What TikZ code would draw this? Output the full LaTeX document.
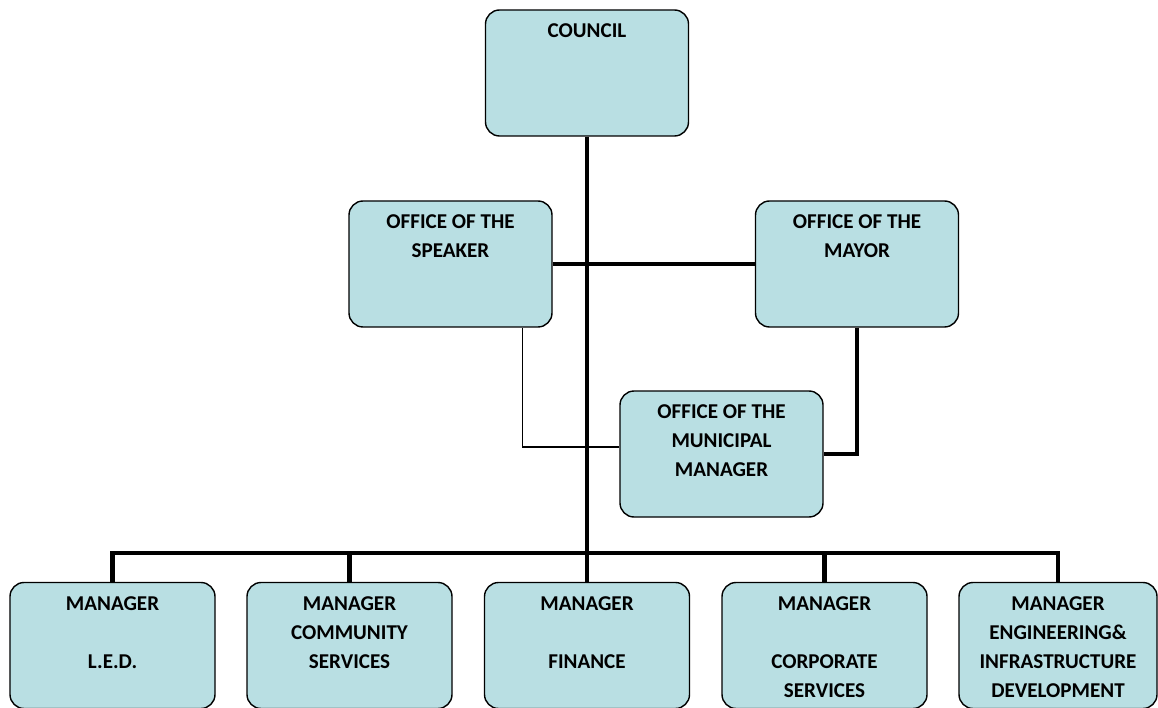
\documentclass[tikz,border=0pt]{standalone}
\usepackage{fontspec}
\setmainfont{Carlito}
\usetikzlibrary{positioning}
\definecolor{BoxAqua}{HTML}{B9DFE3}
\definecolor{Ink}{HTML}{000000}

\begin{document}
\begin{tikzpicture}[
  unit/.style={draw=Ink,line width=0.8pt,rounded corners=8pt,fill=BoxAqua,minimum width=4.06cm,minimum height=2.52cm,inner sep=0pt},
  mgr/.style={unit,minimum width=4.1cm},
  caption/.style={align=center,inner sep=0pt,font=\fontsize{12}{16.5}\selectfont\bfseries},
  trunk/.style={draw=Ink,line width=2.8pt,line join=miter},
  link/.style={draw=Ink,line width=0.8pt}
]
\useasboundingbox (0,0) rectangle (23.16,14.14);
% boxes
\node[unit] (council) at (11.74,12.68) {};
\node[unit] (speaker) at (9.01,8.86) {};
\node[unit] (mayor) at (17.14,8.86) {};
\node[unit] (mm) at (14.43,5.06) {};
\node[mgr] (led) at (2.25,1.23) {};
\node[mgr] (comm) at (6.99,1.23) {};
\node[mgr] (fin) at (11.74,1.23) {};
\node[mgr] (corp) at (16.49,1.23) {};
\node[mgr,minimum width=3.96cm] (eng) at (21.16,1.23) {};
% texts
\node[caption,below=0.28cm of council.north] (councilT) {COUNCIL};
\node[caption,below=0.28cm of speaker.north] (speakerT) {OFFICE OF THE\\SPEAKER};
\node[caption,below=0.28cm of mayor.north] (mayorT) {OFFICE OF THE\\MAYOR};
\node[caption,below=0.28cm of mm.north] (mmT) {OFFICE OF THE\\MUNICIPAL\\MANAGER};
\node[caption,below=0.29cm of led.north] (ledT) {MANAGER\\[16.5pt]L.E.D.};
\node[caption,below=0.29cm of comm.north] (commT) {MANAGER\\COMMUNITY\\SERVICES};
\node[caption,below=0.29cm of fin.north] (finT) {MANAGER\\[16.5pt]FINANCE};
\node[caption,below=0.29cm of corp.north] (corpT) {MANAGER\\[16.5pt]CORPORATE\\SERVICES};
\node[caption,below=0.29cm of eng.north] (engT) {MANAGER\\ENGINEERING\&\\INFRASTRUCTURE\\DEVELOPMENT};
% connectors
\coordinate (bus) at (0,3.08);
\draw[trunk] (council.south) -- (council.south |- bus);
\draw[trunk] (speaker.east) -- (mayor.west);
\draw[trunk] (mayor.south) |- (mm.east);
\draw[link] ([xshift=-0.6cm]speaker.south east) |- ([yshift=0.14cm]mm.west);
\draw[trunk] (led.north) -- (led.north |- bus) -- (eng.north |- bus) -- (eng.north);
\foreach \b in {comm,fin,corp}
  \draw[trunk] (\b.north) -- (\b.north |- bus);
\end{tikzpicture}
\end{document}
